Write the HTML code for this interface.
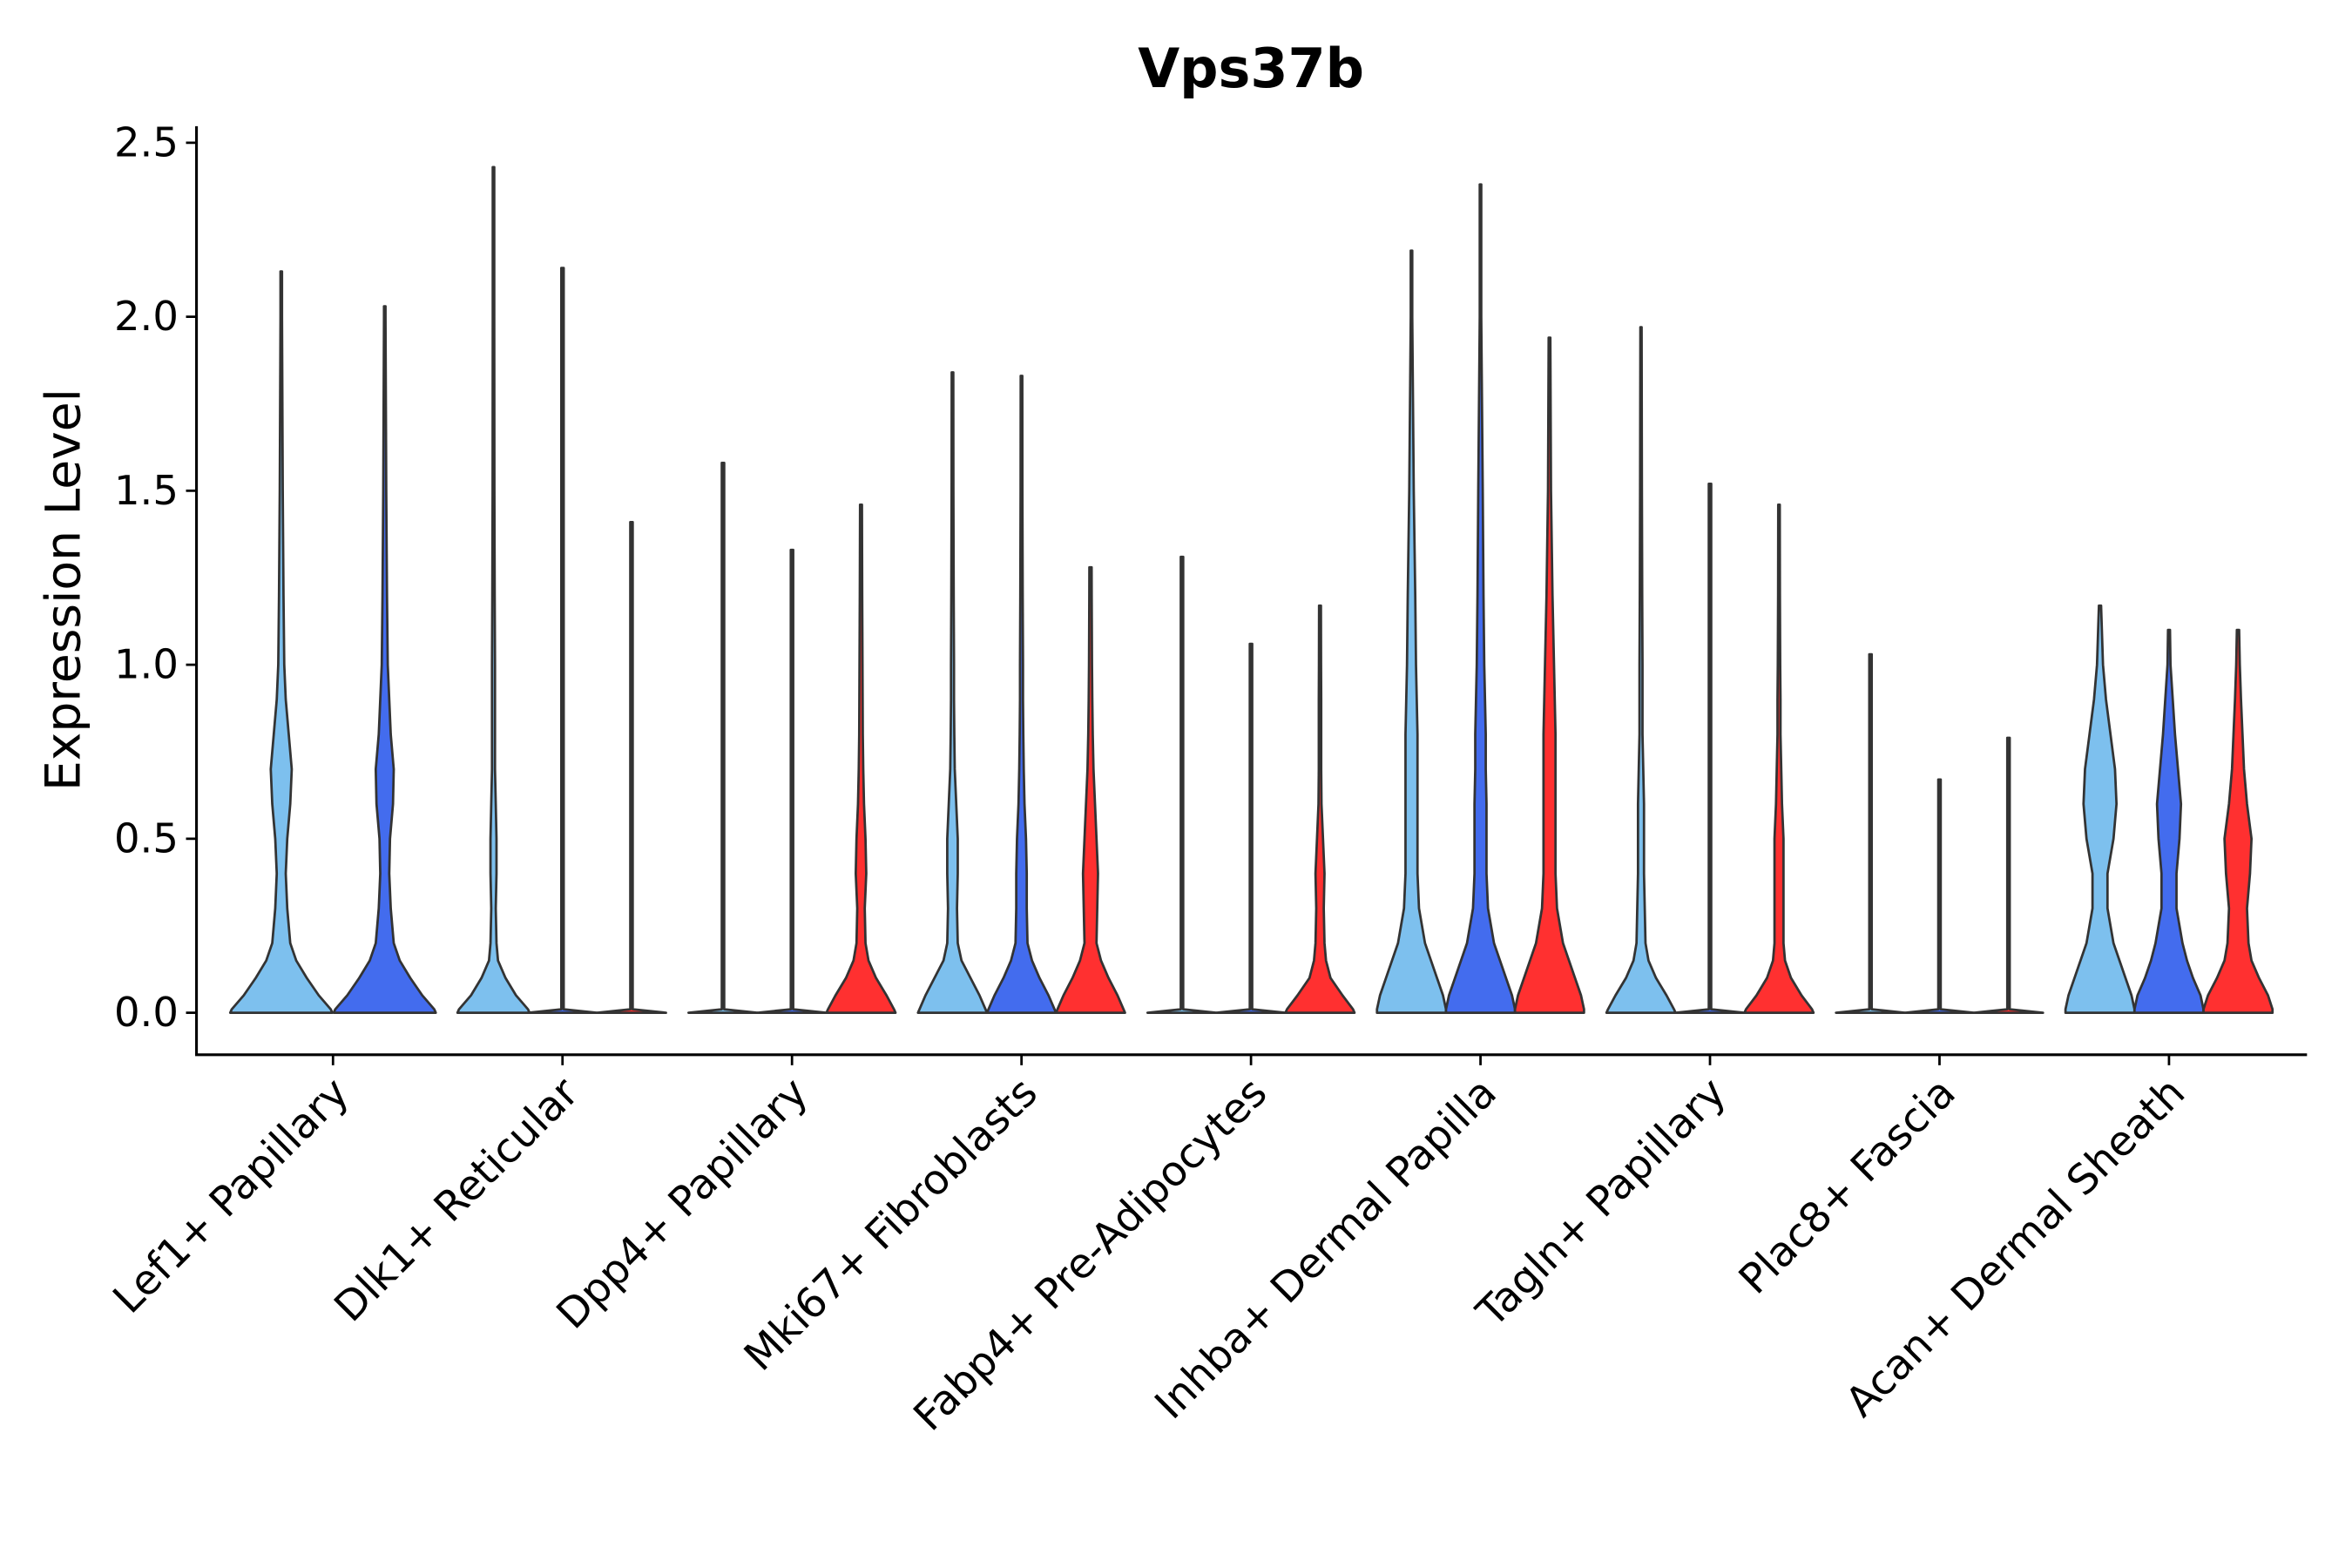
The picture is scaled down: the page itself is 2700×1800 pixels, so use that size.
<!DOCTYPE html>
<html><head><meta charset="utf-8"><style>
html,body{margin:0;padding:0;background:#fff}
svg{display:block;font-family:"DejaVu Sans","Liberation Sans",sans-serif}
</style></head><body>
<svg id="chart" width="2700" height="1800" viewBox="0 0 1568 1045">
<rect width="1568" height="1045" fill="#fff"/>
<text x="834" y="58" text-anchor="middle" font-size="36" font-weight="bold" fill="#000">Vps37b</text>
<text transform="translate(53,393) rotate(-90)" text-anchor="middle" font-size="32" fill="#000">Expression Level</text>
<g id="marks"></g>
<g id="axes"></g>
</svg>
<script>
const categories = ["Lef1+ Papillary","Dlk1+ Reticular","Dpp4+ Papillary","Mki67+ Fibroblasts","Fabp4+ Pre-Adipocytes","Inhba+ Dermal Papilla","Tagln+ Papillary","Plac8+ Fascia","Acan+ Dermal Sheath"];
const yTicks = [0, 0.5, 1.0, 1.5, 2.0, 2.5];
const yTickLabels = ["0.0","0.5","1.0","1.5","2.0","2.5"];
const densityGrid = [0,0.01,0.05,0.1,0.15,0.2,0.3,0.4,0.5,0.6,0.7,0.8,0.9,1.0,1.2,1.5,2.0,2.5];
const groupColors = ["#7DC0EE","#436CEE","#FF3030"];
const violinCategory = [0,0, 1,1,1, 2,2,2, 3,3,3, 4,4,4, 5,5,5, 6,6,6, 7,7,7, 8,8,8];
const violinGroup    = [0,1, 0,1,2, 0,1,2, 0,1,2, 0,1,2, 0,1,2, 0,1,2, 0,1,2, 0,1,2];
const violinMax = [2.13,2.03, 2.43,2.14,1.41, 1.58,1.33,1.46, 1.84,1.83,1.28, 1.31,1.06,1.17, 2.19,2.38,1.94, 1.97,1.52,1.46, 1.03,0.67,0.79, 1.17,1.10,1.10];
const FLAT = [23,0.8,0.8,0.8,0.8,0.8,0.8,0.8,0.8,0.8,0.8,0.8,0.8,0.8,0.8,0.8,0.8,0.8];
const violinDensity = [
 [34,33,25,17,10,6,4,3,4,6,7,5,3,2,1.5,1,0.5,0.5],
 [34,33,25,17,10,6,4,3,3.5,5.5,6,4,3,2,1.5,1,0.5,0.5],
 [24,23,15,8,3,2,1.5,2,2,1.5,1,1,1,1,0.8,0.6,0.5,0.5],
 FLAT, FLAT,
 FLAT, FLAT,
 [23,22,17,10,5,3,2.5,3.5,3,2,1.5,1.2,1.1,1,0.8,0.6,0.5,0.5],
 [23,22,18,12,6,3.5,3,3.5,3.5,2.5,1.5,1.2,1,1,0.8,0.6,0.5,0.5],
 [23,22,18,12,7,4,3.5,3.5,3,2,1.5,1.2,1,1,0.8,0.6,0.5,0.5],
 [23,22,18,12,7,4,4.5,5,4,3,2,1.5,1.2,1,0.8,0.6,0.5,0.5],
 FLAT, FLAT,
 [23,22,15,7,4,3,2.5,3,2,1,0.8,0.8,0.8,0.7,0.6,0.5,0.5,0.5],
 [23,23,21,17,13,9,5,4,4,4,4,4,3.5,3,2.5,1.5,0.5,0.5],
 [23,23,21,17,13,9,5,4,4,4,3.5,3.5,3,2.5,2,1.5,0.5,0.5],
 [23,23,21,17,13,9,5,4,4,4,4,4,3.5,3,2,1,0.5,0.5],
 [23,22,17,10,5,3,2.5,2,2,2,1.5,1,1,1,0.8,0.6,0.4,0.4],
 FLAT,
 [23,22,15,8,4,3,3,3,3,2,1.5,1,1,0.8,0.6,0.5,0.5,0.5],
 FLAT, FLAT, FLAT,
 [23,23,21,17,13,9,5,5,9,11,10,7,4,2,0.5,0.5,0.5,0.5],
 [23,23,21,16,12,9,5,5,7,8,6,4,2.5,1,0.3,0.3,0.3,0.3],
 [23,23,20,14,9,7,6,8,9,6,4,3,2,1.2,0.3,0.3,0.3,0.3]
];
const NS="http://www.w3.org/2000/svg";
const xLeft=131, xRight=1538, catStart=222, catStep=153.0;
const y0=675, yPerUnit=232;
const yScale = v => y0 - v*yPerUnit;
const xCat = i => catStart + i*catStep;
function groupCount(ci){return violinCategory.filter(c=>c===ci).length;}
function xViolin(ci,gi){
  const n=groupCount(ci);
  if(n===2) return xCat(ci)+(gi===0?-34.5:34.5);
  return xCat(ci)+(gi-1)*46;
}
function mk(tag,attrs){const e=document.createElementNS(NS,tag);for(const k in attrs)e.setAttribute(k,attrs[k]);return e;}
const marks=document.getElementById('marks');
violinMax.forEach((mx,i)=>{
  const ci=violinCategory[i], gi=violinGroup[i], d=violinDensity[i];
  const cx=xViolin(ci,gi);
  const pts=[];
  for(let k=0;k<densityGrid.length;k++){
    if(densityGrid[k]>=mx){
      const w0=d[k-1], w1=d[k], t=(mx-densityGrid[k-1])/(densityGrid[k]-densityGrid[k-1]);
      pts.push([mx, Math.min(w0+(w1-w0)*t,1)]);
      break;
    }
    pts.push([densityGrid[k], d[k]]);
  }
  let p="";
  pts.forEach((q,j)=>{p+=(j?"L":"M")+(cx+q[1]).toFixed(2)+","+yScale(q[0]).toFixed(2);});
  for(let j=pts.length-1;j>=0;j--){p+="L"+(cx-pts[j][1]).toFixed(2)+","+yScale(pts[j][0]).toFixed(2);}
  p+="Z";
  const path=mk('path',{d:p,fill:groupColors[gi],stroke:"#333",'stroke-width':1.6,'stroke-linejoin':'round'});
  
  
  marks.appendChild(path);
});
const axes=document.getElementById('axes');
const ya=mk('line',{x1:xLeft,y1:84,x2:xLeft,y2:703,stroke:"#000",'stroke-width':1.8});


axes.appendChild(ya);
const xa=mk('line',{x1:xLeft-0.9,y1:703,x2:xRight,y2:703,stroke:"#000",'stroke-width':1.8});


axes.appendChild(xa);
yTicks.forEach((v,i)=>{
  const y=yScale(v);
  const t=mk('line',{x1:xLeft-7,y1:y,x2:xLeft,y2:y,stroke:"#000",'stroke-width':1.6});
  
  
  axes.appendChild(t);
  const tx=mk('text',{x:xLeft-12,y:y+9,'text-anchor':'end','font-size':27,fill:"#000"});
  tx.textContent=yTickLabels[i];
  
  
  axes.appendChild(tx);
});
categories.forEach((c,i)=>{
  const x=xCat(i);
  const t=mk('line',{x1:x,y1:703,x2:x,y2:710,stroke:"#000",'stroke-width':1.6});
  
  
  axes.appendChild(t);
  const tx=mk('text',{transform:`translate(${x+12},${730}) rotate(-45)`,'text-anchor':'end','font-size':27.5,fill:"#000"});
  tx.textContent=c;
  
  
  axes.appendChild(tx);
});
</script>
</body></html>
